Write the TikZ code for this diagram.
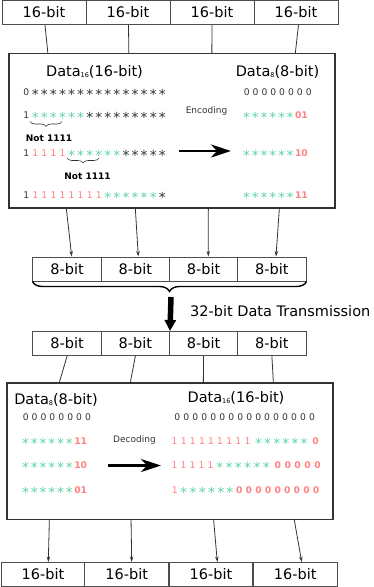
\documentclass[tikz,border=0pt]{standalone}
\usepackage{fontspec}
\usepackage{graphicx}
\setmainfont{DejaVu Sans}
\usetikzlibrary{arrows.meta,decorations.pathreplacing,calc}
\definecolor{rd}{HTML}{FF8080}
\definecolor{gn}{HTML}{5FD3A5}
\definecolor{bx}{HTML}{4D4D4D}
\definecolor{dk}{HTML}{333333}
\newlength\pitch
\newcommand\bigf{\fontsize{14.5}{17}\selectfont}
\newcommand\rowf{\fontsize{9.2}{11}\selectfont}
\newcommand\dsub[1]{\raisebox{-0.8pt}{\fontsize{6.5}{7}\selectfont #1}}
\newcommand\mystar{\raisebox{-3.9pt}{\scalebox{1.5}{*}}}
\newcommand\bend[1]{\hspace{0.5pt}\textcolor{rd}{\bfseries #1}}
\makeatletter
\def\spc#1{\spc@i#1\@nil}
\def\spc@i#1{\ifx#1\@nil\else\makebox[\pitch]{\ifx*#1\mystar\else#1\fi}\expandafter\spc@i\fi}
\makeatother
\begin{document}
\begin{tikzpicture}[x=1pt,y=-1pt,
  bitbox/.style={draw=bx, line width=1pt, minimum height=24pt, inner sep=0pt, font=\bigf, text=black},
  wide/.style={bitbox, minimum width=84pt},
  narrow/.style={bitbox, minimum width=68.25pt},
  frame/.style={draw=dk, line width=1.3pt, inner sep=0pt},
  link/.style={draw=dk, line width=0.8pt},
  linkarr/.style={link, -{Stealth[length=5.5pt,width=3.5pt]}},
  bigarr/.style={draw=black, line width=2.8pt, -{Stealth[length=20pt,width=13pt,inset=6pt]}},
  rowtxt/.style={anchor=base west, inner sep=0pt, text=dk, font=\rowf},
  lbl/.style={inner sep=0pt, font=\bigf, text=black},
  small/.style={inner sep=0pt, font=\fontsize{9}{11}\selectfont, text=dk},
  note/.style={inner sep=0pt, font=\fontsize{9}{11}\selectfont\bfseries, text=black},
  smallbrace/.style={draw=dk, line width=0.6pt, decorate, decoration={brace, mirror, amplitude=5pt}},
  bigbrace/.style={draw=black, line width=1.4pt, decorate, decoration={brace, mirror, amplitude=10pt}}
]
\useasboundingbox (0,0) rectangle (374,587);

% top 16-bit boxes
\node[wide] (t1) at (44,12.5) {16-bit};
\node[wide] (t2) at (128,12.5) {16-bit};
\node[wide] (t3) at (212,12.5) {16-bit};
\node[wide] (t4) at (296,12.5) {16-bit};

% encoding frame
\node[frame, minimum width=326pt, minimum height=154.5pt] (enc) at (172,130.75) {};

\draw[link] ($(t1.south)+(1,0)$) -- ($(enc.north west)+(39.5,0)$);
\draw[link] ($(t2.south)+(0.5,0)$) -- ($(enc.north west)+(120.5,0)$);
\draw[link] (t3.south) -- ($(enc.north west)+(203.5,0)$);
\draw[link] ($(t4.south)+(2.5,0)$) -- ($(enc.north west)+(287,0)$);

\node[lbl] (ehead1) at (94.5,72) {Data\dsub{16}(16-bit)};
\node[lbl] (ehead2) at (277.5,72) {Data\dsub{8}(8-bit)};

\node[rowtxt] (er0) at (21.5,95.4) {\setlength\pitch{9.07pt}\spc{0***************}};
\node[rowtxt] (er1) at (21.5,118.9) {\setlength\pitch{9.07pt}\spc{1}\textcolor{gn}{\spc{******}}\spc{*********}};
\node[rowtxt] (er2) at (21.5,156.9) {\setlength\pitch{9.07pt}\spc{1}\textcolor{rd}{\spc{1111}}\textcolor{gn}{\spc{******}}\spc{*****}};
\node[rowtxt] (er3) at (21.5,198.9) {\setlength\pitch{9.07pt}\spc{1}\textcolor{rd}{\spc{11111111}}\textcolor{gn}{\spc{******}}\spc{*}};

\draw[smallbrace] (30,121.5) -- (62,121.5);
\node[note] (n1) at (49,138) {Not 1111};
\draw[smallbrace] (67,158) -- (99,158);
\node[note] (n2) at (87.5,176) {Not 1111};

\node[rowtxt] (es0) at (242.1,95.9) {\setlength\pitch{8.86pt}\spc{00000000}};
\node[rowtxt] (es1) at (242.1,118.4) {\setlength\pitch{8.7pt}\textcolor{gn}{\spc{******}}\bend{01}};
\node[rowtxt] (es2) at (242.1,156.4) {\setlength\pitch{8.7pt}\textcolor{gn}{\spc{******}}\bend{10}};
\node[rowtxt] (es3) at (242.1,198.4) {\setlength\pitch{8.7pt}\textcolor{gn}{\spc{******}}\bend{11}};

\node[small] (enclab) at (206.5,111.5) {Encoding};
\coordinate (ea1) at (179,151);
\coordinate (ea2) at (231,151);
\draw[bigarr] (ea1) -- (ea2);

% upper 8-bit boxes
\node[narrow] (b1) at (67.1,269) {8-bit};
\node[narrow] (b2) at (135.4,269) {8-bit};
\node[narrow] (b3) at (203.6,269) {8-bit};
\node[narrow] (b4) at (271.9,269) {8-bit};

\draw[linkarr] ($(enc.south west)+(58,0)$) -- ($(b1.north)+(4.6,0)$);
\draw[linkarr] ($(enc.south west)+(127,0)$) -- ($(b2.north)+(2.9,0)$);
\draw[linkarr] ($(enc.south west)+(200,0)$) -- ($(b3.north)+(4.7,0)$);
\draw[linkarr] ($(enc.south west)+(271,0)$) -- ($(b4.north)+(4.1,0)$);

\draw[bigbrace] (b1.south west) -- (b4.south east);

% lower 8-bit boxes
\node[narrow] (c1) at (67.1,343.5) {8-bit};
\node[narrow] (c2) at (135.4,343.5) {8-bit};
\node[narrow] (c3) at (203.6,343.5) {8-bit};
\node[narrow] (c4) at (271.9,343.5) {8-bit};

\coordinate (bt) at (171,297);
\draw[line width=5.5pt, -{Triangle[length=11pt,width=11pt]}] (bt) -- ($(c3.north west)+(1,0)$);
\node[lbl, anchor=west] (trans) at (190,311) {32-bit Data Transmission};

% decoding frame
\node[frame, minimum width=326pt, minimum height=136.5pt] (dec) at (170,451.25) {};

\draw[link] (c1.south) -- ($(dec.north west)+(53,0)$);
\draw[link] (c2.south) -- ($(dec.north west)+(124,0)$);
\draw[link] (c3.south) -- ($(dec.north west)+(197,0)$);
\draw[link] (c4.south) -- ($(dec.north west)+(267,0)$);

\node[lbl] (dhead1) at (56,400) {Data\dsub{8}(8-bit)};
\node[lbl] (dhead2) at (236,398) {Data\dsub{16}(16-bit)};

\node[rowtxt] (dr0) at (21.05,420.9) {\setlength\pitch{8.9pt}\spc{00000000}};
\node[rowtxt] (dr1) at (21.05,444.4) {\setlength\pitch{8.75pt}\textcolor{gn}{\spc{******}}\bend{11}};
\node[rowtxt] (dr2) at (21.05,468.4) {\setlength\pitch{8.75pt}\textcolor{gn}{\spc{******}}\bend{10}};
\node[rowtxt] (dr3) at (21.05,493.9) {\setlength\pitch{8.75pt}\textcolor{gn}{\spc{******}}\bend{01}};

\node[small] (declab) at (134.5,440.5) {Decoding};
\coordinate (da1) at (108,465.5);
\coordinate (da2) at (161,465.5);
\draw[bigarr] (da1) -- (da2);

\node[rowtxt] (ds0) at (172.5,420.9) {\setlength\pitch{9pt}\spc{0000000000000000}};
\node[rowtxt] (ds1) at (169.9,444.4) {\setlength\pitch{9.1pt}\textcolor{rd}{\spc{111111111}}\hspace{2pt}\textcolor{gn}{\spc{******}}\hspace{2.5pt}\textcolor{rd}{\bfseries\spc{0}}};
\node[rowtxt] (ds2) at (169.9,468.4) {\setlength\pitch{9pt}\textcolor{rd}{\spc{11111}}\setlength\pitch{9.3pt}\textcolor{gn}{\spc{******}}\setlength\pitch{9.9pt}\hspace{2pt}\textcolor{rd}{\bfseries\spc{00000}}};
\node[rowtxt] (ds3) at (169.9,493.9) {\setlength\pitch{9.2pt}\textcolor{rd}{\spc{1}}\textcolor{gn}{\spc{******}}\setlength\pitch{9.6pt}\textcolor{rd}{\bfseries\spc{000000000}}};

% bottom 16-bit boxes
\node[wide, minimum width=83.9pt] (u1) at (43,574.5) {16-bit};
\node[wide, minimum width=83.9pt] (u2) at (126.7,574.5) {16-bit};
\node[wide, minimum width=83.9pt] (u3) at (211,574.5) {16-bit};
\node[wide, minimum width=83.9pt] (u4) at (295.2,574.5) {16-bit};

\draw[linkarr] ($(dec.south west)+(43,0)$) -- ($(u1.north)+(5.3,0)$);
\draw[linkarr] ($(dec.south west)+(124.7,0)$) -- ($(u2.north)+(5,0)$);
\draw[linkarr] ($(dec.south west)+(207.3,0)$) -- ($(u3.north)+(6.3,0)$);
\draw[linkarr] ($(dec.south west)+(288,0)$) -- ($(u4.north)+(6.5,0)$);
\end{tikzpicture}
\end{document}
